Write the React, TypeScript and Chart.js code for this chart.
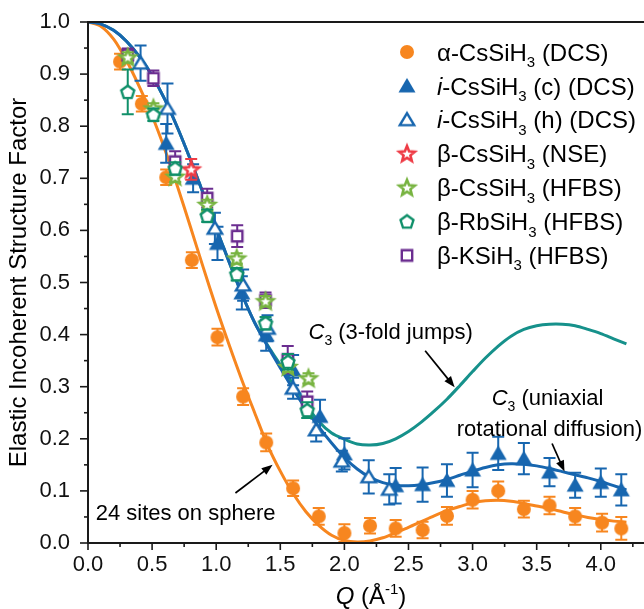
import React, { useEffect, useRef } from 'react';
import { Chart, registerables } from 'chart.js';
Chart.register(...registerables);

const FONT = '"Liberation Sans", Arial, sans-serif';

// ---- data: measured points ----
const alphaQ = [0.25, 0.42, 0.61, 0.81, 1.01, 1.21, 1.39, 1.6, 1.8, 2.0, 2.2, 2.4, 2.61, 2.8, 3.0, 3.2, 3.4, 3.6, 3.8, 4.01, 4.16];
const alphaV = [0.924, 0.843, 0.702, 0.543, 0.395, 0.281, 0.193, 0.105, 0.051, 0.019, 0.033, 0.028, 0.025, 0.052, 0.083, 0.1, 0.065, 0.072, 0.051, 0.039, 0.028];
const alphaE = [0.015, 0.015, 0.015, 0.015, 0.016, 0.016, 0.017, 0.015, 0.016, 0.017, 0.015, 0.016, 0.016, 0.017, 0.017, 0.018, 0.016, 0.017, 0.016, 0.017, 0.022];

const icQ = [0.61, 0.82, 1.01, 1.2, 1.39, 1.6, 1.81, 2.0, 2.4, 2.61, 2.8, 3.0, 3.2, 3.4, 3.6, 3.8, 4.0, 4.16];
const icV = [0.767, 0.7, 0.575, 0.48, 0.399, 0.332, 0.243, 0.171, 0.11, 0.112, 0.12, 0.14, 0.172, 0.162, 0.136, 0.111, 0.116, 0.102];
const icE = [0.037, 0.027, 0.032, 0.032, 0.03, 0.029, 0.032, 0.03, 0.034, 0.033, 0.031, 0.033, 0.032, 0.03, 0.027, 0.024, 0.027, 0.03];

const ihQ = [0.41, 0.62, 0.99, 1.21, 1.4, 1.6, 1.78, 1.98, 2.19, 2.35];
const ihV = [0.921, 0.834, 0.604, 0.495, 0.412, 0.297, 0.217, 0.157, 0.127, 0.103];
const ihE = [0.034, 0.048, 0.03, 0.03, 0.025, 0.02, 0.022, 0.02, 0.032, 0.029];

const nseQ = [0.805];
const nseV = [0.717];
const nseE = [0.02];

const hfbsCsQ = [0.31, 0.51, 0.68, 0.93, 1.16, 1.385, 1.56, 1.72];
const hfbsCsV = [0.932, 0.834, 0.703, 0.649, 0.546, 0.464, 0.338, 0.316];
const hfbsCsE = [0.01, 0.01, 0.01, 0.01, 0.01, 0.01, 0.01, 0.01];

const hfbsRbQ = [0.31, 0.51, 0.68, 0.93, 1.16, 1.385, 1.56, 1.71];
const hfbsRbV = [0.866, 0.822, 0.719, 0.628, 0.516, 0.422, 0.348, 0.255];
const hfbsRbE = [0.043, 0.012, 0.012, 0.012, 0.012, 0.012, 0.015, 0.015];

const hfbsKQ = [0.31, 0.51, 0.68, 0.93, 1.164, 1.385, 1.558, 1.71];
const hfbsKV = [0.937, 0.892, 0.732, 0.662, 0.589, 0.466, 0.352, 0.271];
const hfbsKE = [0.012, 0.015, 0.02, 0.018, 0.021, 0.015, 0.026, 0.02];

// ---- data: model curves ----
const curveQ = [0, 0.1, 0.2, 0.3, 0.4, 0.5, 0.6, 0.7, 0.8, 0.9, 1.0, 1.1, 1.2, 1.3, 1.4, 1.5, 1.6, 1.7, 1.8, 1.9, 2.0, 2.1, 2.2, 2.3, 2.4, 2.5, 2.6, 2.7, 2.8, 2.9, 3.0, 3.1, 3.2, 3.3, 3.4, 3.5, 3.6, 3.7, 3.8, 3.9, 4.0, 4.1, 4.2];
const sphereV = [1.0, 0.992, 0.967, 0.926, 0.876, 0.82, 0.755, 0.683, 0.606, 0.528, 0.452, 0.381, 0.313, 0.25, 0.188, 0.138, 0.095, 0.06, 0.034, 0.015, 0.005, 0.002, 0.004, 0.01, 0.02, 0.03, 0.041, 0.052, 0.062, 0.07, 0.077, 0.081, 0.082, 0.08, 0.076, 0.071, 0.066, 0.06, 0.054, 0.049, 0.045, 0.042, 0.04];
const uniaxialV = [1.0, 0.996, 0.984, 0.963, 0.934, 0.897, 0.851, 0.796, 0.735, 0.67, 0.604, 0.54, 0.478, 0.423, 0.378, 0.336, 0.295, 0.257, 0.223, 0.192, 0.164, 0.142, 0.126, 0.116, 0.111, 0.11, 0.112, 0.116, 0.122, 0.13, 0.138, 0.145, 0.15, 0.152, 0.151, 0.148, 0.143, 0.137, 0.131, 0.125, 0.118, 0.11, 0.102];
const jumpV = [1.0, 0.996, 0.984, 0.963, 0.934, 0.897, 0.851, 0.796, 0.735, 0.67, 0.604, 0.54, 0.478, 0.423, 0.38, 0.342, 0.305, 0.266, 0.233, 0.211, 0.199, 0.19, 0.188, 0.191, 0.2, 0.214, 0.232, 0.253, 0.276, 0.302, 0.329, 0.355, 0.378, 0.397, 0.41, 0.417, 0.42, 0.42, 0.417, 0.41, 0.402, 0.392, 0.382];

const C_ORANGE = '#F7861F';
const C_BLUE = '#1766AF';
const C_TEAL = '#16918B';
const C_RED = '#EE3B45';
const C_LGREEN = '#78B441';
const C_GREEN = '#10906A';
const C_PURPLE = '#6B2D90';

type Seg = { t: string; it?: boolean; sub?: boolean; sup?: boolean };

function drawRich(ctx: CanvasRenderingContext2D, segs: Seg[], x: number, y: number, size: number, align: 'left' | 'center') {
  const fontFor = (s: Seg) => `${s.it ? 'italic ' : ''}${s.sub || s.sup ? Math.round(size * 0.64) : size}px ${FONT}`;
  ctx.textAlign = 'left';
  ctx.textBaseline = 'alphabetic';
  const widths = segs.map((s) => {
    ctx.font = fontFor(s);
    return ctx.measureText(s.t).width;
  });
  const total = widths.reduce((a, b) => a + b, 0);
  let cx = align === 'center' ? x - total / 2 : x;
  segs.forEach((s, i) => {
    ctx.font = fontFor(s);
    const dy = s.sub ? size * 0.27 : s.sup ? -size * 0.42 : 0;
    ctx.fillText(s.t, cx, y + dy);
    cx += widths[i];
  });
}

function makeMarker(kind: string, color: string): HTMLCanvasElement {
  const c = document.createElement('canvas');
  c.width = 24;
  c.height = 24;
  const g = c.getContext('2d')!;
  const m = 12;
  g.lineJoin = 'miter';
  g.fillStyle = color;
  g.strokeStyle = color;
  g.beginPath();
  if (kind === 'circle') {
    g.arc(m, m, 7, 0, Math.PI * 2);
    g.fill();
  } else if (kind === 'tri') {
    g.moveTo(m, m - 8);
    g.lineTo(m + 8.5, m + 6.5);
    g.lineTo(m - 8.5, m + 6.5);
    g.closePath();
    g.fill();
  } else if (kind === 'otri') {
    g.moveTo(m, m - 6.6);
    g.lineTo(m + 7.2, m + 5.4);
    g.lineTo(m - 7.2, m + 5.4);
    g.closePath();
    g.fillStyle = '#fff';
    g.fill();
    g.lineWidth = 2.4;
    g.stroke();
  } else if (kind === 'star') {
    for (let i = 0; i < 10; i++) {
      const r = i % 2 === 0 ? 8.2 : 3.6;
      const a = -Math.PI / 2 + (i * Math.PI) / 5;
      const px = m + r * Math.cos(a);
      const py = m + 0.5 + r * Math.sin(a);
      if (i === 0) g.moveTo(px, py);
      else g.lineTo(px, py);
    }
    g.closePath();
    g.fillStyle = '#fff';
    g.fill();
    g.lineWidth = 2.6;
    g.stroke();
  } else if (kind === 'pent') {
    for (let i = 0; i < 5; i++) {
      const a = -Math.PI / 2 + (i * 2 * Math.PI) / 5;
      const px = m + 6.8 * Math.cos(a);
      const py = m + 0.6 + 6.8 * Math.sin(a);
      if (i === 0) g.moveTo(px, py);
      else g.lineTo(px, py);
    }
    g.closePath();
    g.fillStyle = '#fff';
    g.fill();
    g.lineWidth = 2.4;
    g.stroke();
  } else if (kind === 'sq') {
    g.rect(m - 5.2, m - 5.2, 10.4, 10.4);
    g.fillStyle = '#fff';
    g.fill();
    g.lineWidth = 2.4;
    g.stroke();
  }
  return c;
}

const isMult = (v: number, step: number) => Math.abs(v / step - Math.round(v / step)) < 1e-6;

const errorBarPlugin = {
  id: 'errorBars',
  beforeDatasetDraw(chart: any, args: any) {
    const ds = chart.data.datasets[args.index];
    if (!ds.errors) return;
    const ctx = chart.ctx as CanvasRenderingContext2D;
    const ys = chart.scales.y;
    ctx.save();
    ctx.strokeStyle = ds.errColor;
    ctx.lineWidth = 2;
    args.meta.data.forEach((pt: any, i: number) => {
      const v = ds.data[i].y;
      const e = ds.errors[i];
      const x = pt.x;
      const y1 = ys.getPixelForValue(v + e);
      const y2 = ys.getPixelForValue(v - e);
      ctx.beginPath();
      ctx.moveTo(x, y1);
      ctx.lineTo(x, y2);
      ctx.moveTo(x - 6, y1);
      ctx.lineTo(x + 6, y1);
      ctx.moveTo(x - 6, y2);
      ctx.lineTo(x + 6, y2);
      ctx.stroke();
    });
    ctx.restore();
  },
};

function arrow(ctx: CanvasRenderingContext2D, x1: number, y1: number, x2: number, y2: number) {
  const ang = Math.atan2(y2 - y1, x2 - x1);
  const L = 11;
  const W = 4.2;
  ctx.beginPath();
  ctx.moveTo(x1, y1);
  ctx.lineTo(x2 - Math.cos(ang) * L * 0.8, y2 - Math.sin(ang) * L * 0.8);
  ctx.lineWidth = 1.7;
  ctx.strokeStyle = '#000';
  ctx.stroke();
  ctx.beginPath();
  ctx.moveTo(x2, y2);
  ctx.lineTo(x2 - Math.cos(ang) * L - Math.sin(ang) * W, y2 - Math.sin(ang) * L + Math.cos(ang) * W);
  ctx.lineTo(x2 - Math.cos(ang) * L + Math.sin(ang) * W, y2 - Math.sin(ang) * L - Math.cos(ang) * W);
  ctx.closePath();
  ctx.fillStyle = '#000';
  ctx.fill();
}

export default function App() {
  const ref = useRef<HTMLCanvasElement | null>(null);

  useEffect(() => {
    const canvas = ref.current;
    if (!canvas) return;
    const mk = {
      alpha: makeMarker('circle', C_ORANGE),
      ic: makeMarker('tri', C_BLUE),
      ih: makeMarker('otri', C_BLUE),
      nse: makeMarker('star', C_RED),
      cs: makeMarker('star', C_LGREEN),
      rb: makeMarker('pent', C_GREEN),
      k: makeMarker('sq', C_PURPLE),
    };

    const pts = (q: number[], v: number[]) => q.map((x, i) => ({ x, y: v[i] }));
    const pointDs = (label: string, q: number[], v: number[], e: number[], img: HTMLCanvasElement, color: string, order: number) => ({
      label,
      data: pts(q, v),
      showLine: false,
      pointStyle: img,
      pointRadius: 9,
      pointHoverRadius: 9,
      errors: e,
      errColor: color,
      order,
    });
    const curveDs = (label: string, v: number[], color: string, order: number) => ({
      label,
      data: pts(curveQ, v),
      showLine: true,
      pointRadius: 0,
      borderColor: color,
      borderWidth: 3,
      tension: 0.3,
      fill: false,
      order,
    });

    const legendItems: { img: HTMLCanvasElement; segs: Seg[] }[] = [
      { img: mk.alpha, segs: [{ t: 'α-CsSiH' }, { t: '3', sub: true }, { t: ' (DCS)' }] },
      { img: mk.ic, segs: [{ t: 'i', it: true }, { t: '-CsSiH' }, { t: '3', sub: true }, { t: ' (c) (DCS)' }] },
      { img: mk.ih, segs: [{ t: 'i', it: true }, { t: '-CsSiH' }, { t: '3', sub: true }, { t: ' (h) (DCS)' }] },
      { img: mk.nse, segs: [{ t: 'β-CsSiH' }, { t: '3', sub: true }, { t: ' (NSE)' }] },
      { img: mk.cs, segs: [{ t: 'β-CsSiH' }, { t: '3', sub: true }, { t: ' (HFBS)' }] },
      { img: mk.rb, segs: [{ t: 'β-RbSiH' }, { t: '3', sub: true }, { t: ' (HFBS)' }] },
      { img: mk.k, segs: [{ t: 'β-KSiH' }, { t: '3', sub: true }, { t: ' (HFBS)' }] },
    ];

    const decorPlugin = {
      id: 'decor',
      afterDraw(chart: any) {
        const ctx = chart.ctx as CanvasRenderingContext2D;
        const a = chart.chartArea;
        const xs = chart.scales.x;
        const ys = chart.scales.y;
        ctx.save();
        // tick marks
        ctx.strokeStyle = '#1a1a1a';
        ctx.lineWidth = 1.6;
        xs.ticks.forEach((t: any) => {
          const v = t.value;
          if (!isMult(v, 0.25) || v > 4.5) return;
          const px = xs.getPixelForValue(v);
          const len = isMult(v, 0.5) ? 7 : 4;
          ctx.beginPath();
          ctx.moveTo(px, a.bottom);
          ctx.lineTo(px, a.bottom + len);
          ctx.stroke();
        });
        ys.ticks.forEach((t: any) => {
          const v = t.value;
          if (!isMult(v, 0.05)) return;
          const py = ys.getPixelForValue(v);
          const len = isMult(v, 0.1) ? 8 : 4;
          ctx.beginPath();
          ctx.moveTo(a.left, py);
          ctx.lineTo(a.left - len, py);
          ctx.stroke();
        });
        // frame
        ctx.lineWidth = 2;
        ctx.strokeStyle = '#1a1a1a';
        ctx.beginPath();
        ctx.moveTo(a.left, a.top);
        ctx.lineTo(a.right, a.top);
        ctx.moveTo(a.left, a.top - 1);
        ctx.lineTo(a.left, a.bottom + 1);
        ctx.moveTo(a.left - 1, a.bottom);
        ctx.lineTo(a.right, a.bottom);
        ctx.stroke();

        ctx.fillStyle = '#000';
        // axis titles
        ctx.save();
        ctx.translate(26, (a.top + a.bottom) / 2);
        ctx.rotate(-Math.PI / 2);
        ctx.font = `24px ${FONT}`;
        ctx.textAlign = 'center';
        ctx.textBaseline = 'alphabetic';
        ctx.fillText('Elastic Incoherent Structure Factor', 0, 0);
        ctx.restore();
        drawRich(ctx, [{ t: 'Q', it: true }, { t: ' (Å' }, { t: '-1', sup: true }, { t: ')' }], 371, 604, 24, 'center');

        // legend
        legendItems.forEach((it, i) => {
          const cy = 52 + i * 33.9;
          ctx.drawImage(it.img, 407 - it.img.width / 2, cy - it.img.height / 2);
          ctx.fillStyle = '#000';
          drawRich(ctx, it.segs, 437, cy + 8.6, 24, 'left');
        });

        // annotations
        ctx.fillStyle = '#000';
        drawRich(ctx, [{ t: '24 sites on sphere' }], xs.getPixelForValue(0.06), ys.getPixelForValue(0.044), 22, 'left');
        arrow(ctx, xs.getPixelForValue(1.15), ys.getPixelForValue(0.096), xs.getPixelForValue(1.44), ys.getPixelForValue(0.15));

        ctx.fillStyle = '#000';
        drawRich(ctx, [{ t: 'C', it: true }, { t: '3', sub: true }, { t: ' (3-fold jumps)' }], xs.getPixelForValue(1.72), ys.getPixelForValue(0.392), 22, 'left');
        arrow(ctx, xs.getPixelForValue(2.63), ys.getPixelForValue(0.369), xs.getPixelForValue(2.86), ys.getPixelForValue(0.299));

        ctx.fillStyle = '#000';
        drawRich(ctx, [{ t: 'C', it: true }, { t: '3', sub: true }, { t: ' (uniaxial' }], xs.getPixelForValue(3.585), ys.getPixelForValue(0.265), 22, 'center');
        ctx.fillStyle = '#000';
        drawRich(ctx, [{ t: 'rotational diffusion)' }], xs.getPixelForValue(3.6), ys.getPixelForValue(0.206), 22, 'center');
        arrow(ctx, xs.getPixelForValue(3.62), ys.getPixelForValue(0.191), xs.getPixelForValue(3.717), ys.getPixelForValue(0.137));
        ctx.restore();
      },
    };

    const chart = new Chart(canvas, {
      type: 'scatter',
      data: {
        datasets: [
          pointDs('β-RbSiH3 (HFBS)', hfbsRbQ, hfbsRbV, hfbsRbE, mk.rb, C_GREEN, 1),
          pointDs('β-CsSiH3 (HFBS)', hfbsCsQ, hfbsCsV, hfbsCsE, mk.cs, C_LGREEN, 2),
          pointDs('β-CsSiH3 (NSE)', nseQ, nseV, nseE, mk.nse, C_RED, 3),
          pointDs('β-KSiH3 (HFBS)', hfbsKQ, hfbsKV, hfbsKE, mk.k, C_PURPLE, 4),
          pointDs('i-CsSiH3 (h) (DCS)', ihQ, ihV, ihE, mk.ih, C_BLUE, 5),
          pointDs('i-CsSiH3 (c) (DCS)', icQ, icV, icE, mk.ic, C_BLUE, 6),
          pointDs('α-CsSiH3 (DCS)', alphaQ, alphaV, alphaE, mk.alpha, C_ORANGE, 7),
          curveDs('C3 uniaxial rotational diffusion', uniaxialV, C_BLUE, 8),
          curveDs('24 sites on sphere', sphereV, C_ORANGE, 9),
          curveDs('C3 3-fold jumps', jumpV, C_TEAL, 10),
        ] as any,
      },
      options: {
        animation: false,
        responsive: false,
        layout: { padding: { top: 22, right: 22.3, left: 0, bottom: 0 } },
        plugins: { legend: { display: false }, tooltip: { enabled: false } },
        scales: {
          x: {
            type: 'linear',
            min: 0,
            max: 4.6,
            afterFit: (s: any) => {
              s.height = 66;
              s.paddingLeft = 0;
              s.paddingRight = 0;
            },
            grid: { display: false, drawTicks: false, tickLength: 0 },
            border: { display: false },
            ticks: {
              stepSize: 0.25,
              autoSkip: false,
              maxRotation: 0,
              padding: 9,
              color: '#111',
              font: { size: 22, family: FONT },
              callback: (v: any) => (isMult(Number(v), 0.5) && Number(v) <= 4.01 ? Number(v).toFixed(1) : ''),
            },
          },
          y: {
            type: 'linear',
            min: 0,
            max: 1,
            afterFit: (s: any) => {
              s.width = 88;
              s.paddingTop = 0;
              s.paddingBottom = 0;
            },
            grid: { display: false, drawTicks: false, tickLength: 0 },
            border: { display: false },
            ticks: {
              stepSize: 0.05,
              autoSkip: false,
              padding: 18,
              color: '#111',
              font: { size: 22, family: FONT },
              callback: (v: any) => (isMult(Number(v), 0.1) ? Number(v).toFixed(1) : ''),
            },
          },
        },
      } as any,
      plugins: [errorBarPlugin, decorPlugin],
    });
    return () => chart.destroy();
  }, []);

  return (
    <div style={{ position: 'fixed', left: 0, top: 0, width: 644, height: 609, overflow: 'hidden', background: '#fff' }}>
      <canvas ref={ref} width={700} height={609} style={{ display: 'block', width: 700, height: 609 }} />
    </div>
  );
}
